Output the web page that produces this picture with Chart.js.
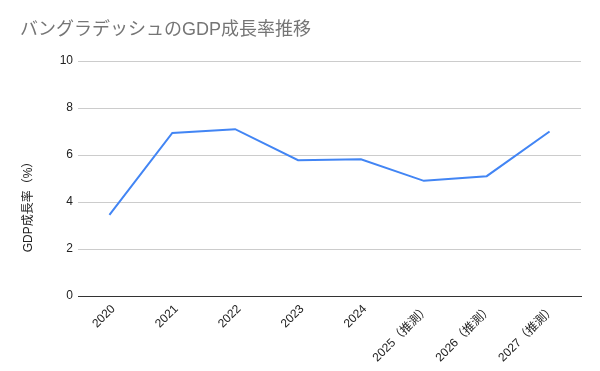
<!DOCTYPE html>
<html>
<head>
<meta charset="utf-8">
<script src="https://cdn.jsdelivr.net/npm/chart.js@4"></script>
<style>
html,body{margin:0;padding:0;background:#fff;}
canvas{display:block;}
</style>
</head>
<body>
<canvas id="c" width="600" height="371"></canvas>
<script>
const chartTitle = 'バングラデッシュのGDP成長率推移';
const yAxisTitle = 'GDP成長率（%）';
const categories = ['2020','2021','2022','2023','2024','2025（推測）','2026（推測）','2027（推測）'];
const growthValues = [3.45, 6.94, 7.1, 5.78, 5.82, 4.9, 5.1, 7.0];
const yTickMin = 0, yTickMax = 10, yTickStep = 2;

const FONT = "'Liberation Sans', Arial, 'Noto Sans CJK JP', sans-serif";

const yTitlePlugin = {
  id: 'yTitle',
  afterDraw(chart) {
    const ctx = chart.ctx;
    ctx.save();
    ctx.translate(29, 204);
    ctx.rotate(-Math.PI / 2);
    ctx.font = '12px ' + FONT;
    ctx.fillStyle = '#222222';
    ctx.textAlign = 'center';
    ctx.textBaseline = 'middle';
    ctx.fillText(yAxisTitle, 0, 0);
    ctx.restore();
  }
};

new Chart(document.getElementById('c'), {
  type: 'line',
  data: {
    labels: categories,
    datasets: [{
      label: yAxisTitle,
      data: growthValues,
      borderColor: '#4285F4',
      backgroundColor: '#4285F4',
      borderWidth: 2,
      pointRadius: 0,
      pointHoverRadius: 0,
      tension: 0,
      fill: false
    }]
  },
  options: {
    responsive: false,
    animation: false,
    events: [],
    layout: { padding: { left: 20, right: 19, top: 0, bottom: 0 } },
    plugins: {
      legend: { display: false },
      tooltip: { enabled: false },
      title: {
        display: true,
        text: chartTitle,
        align: 'start',
        color: '#757575',
        font: { family: FONT, size: 18, weight: 'normal' },
        padding: { top: 19, bottom: 20.4 }
      }
    },
    scales: {
      x: {
        offset: true,
        grid: { display: false, drawTicks: false },
        border: { display: true, color: '#333333', width: 1 },
        ticks: {
          color: '#222222',
          font: { family: FONT, size: 12 },
          maxRotation: 45,
          minRotation: 45,
          autoSkip: false,
          padding: 6,
          labelOffset: 4
        },
        afterFit(scale) { scale.height = 75; }
      },
      y: {
        min: yTickMin,
        max: yTickMax,
        grid: { color: '#cccccc', drawTicks: false, lineWidth: 1 },
        border: { display: false },
        ticks: {
          stepSize: yTickStep,
          color: '#222222',
          font: { family: FONT, size: 12 },
          padding: 5
        },
        afterFit(scale) { scale.width = 58; }
      }
    }
  },
  plugins: [yTitlePlugin]
});
</script>
</body>
</html>
